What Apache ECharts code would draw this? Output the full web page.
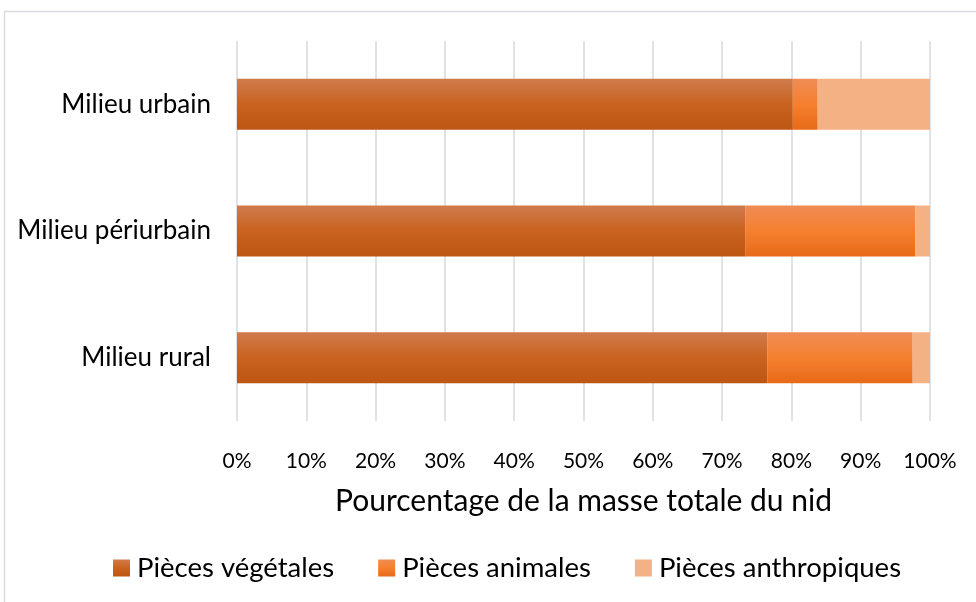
<!DOCTYPE html>
<html><head><meta charset="utf-8">
<script src="https://cdn.jsdelivr.net/npm/echarts@6/dist/echarts.min.js"></script>
<style>html,body{margin:0;padding:0;background:#fff}#c{width:976px;height:602px}</style>
</head><body><div id="c"></div>
<script>
const categories = ['Milieu rural', 'Milieu périurbain', 'Milieu urbain'];
const seriesNames = ['Pièces végétales', 'Pièces animales', 'Pièces anthropiques'];
const vegetales = [76.5, 73.4, 80.2];
const animales = [21.0, 24.5, 3.6];
const anthropiques = [2.5, 2.1, 16.2];
const tickValues = [0, 10, 20, 30, 40, 50, 60, 70, 80, 90, 100];

const chart = echarts.init(document.getElementById('c'));
const FONT = 'Lato';
function grad(top, mid, bot) {
  return new echarts.graphic.LinearGradient(0, 0, 0, 1, [
    {offset: 0, color: top}, {offset: 0.5, color: mid}, {offset: 1, color: bot}
  ]);
}
const colors = [
  grad('#d07b4d', '#c9631f', '#bd5513'),
  grad('#f08c56', '#f5802e', '#e76a18'),
  '#f4b183'
];
const dataSets = [vegetales, animales, anthropiques];
chart.setOption({
  animation: false,
  textStyle: {fontFamily: FONT},
  graphic: [{
    type: 'rect', shape: {x: 4.5, y: 11.5, width: 990, height: 620},
    style: {fill: 'none', stroke: '#d9dce1', lineWidth: 1.5}, silent: true
  }],
  grid: {left: 237, right: 46, top: 41, bottom: 181},
  legend: {
    bottom: 15, left: 108, itemWidth: 17, itemHeight: 17, itemGap: 44,
    icon: 'rect',
    textStyle: {fontFamily: FONT, fontSize: 27.5, color: '#000', padding: [0, 0, 0, 2]},
    data: seriesNames
  },
  xAxis: {
    type: 'value', min: 0, max: 100, interval: 10,
    axisLabel: {formatter: v => tickValues.includes(v) ? v + '%' : '', fontSize: 21, color: '#000', margin: 30, fontFamily: FONT},
    axisLine: {show: false}, axisTick: {show: false},
    splitLine: {lineStyle: {color: '#dfe3e8', width: 2}},
    name: 'Pourcentage de la masse totale du nid', nameLocation: 'middle', nameGap: 65,
    nameTextStyle: {fontSize: 30, color: '#000', fontFamily: FONT}
  },
  yAxis: {
    type: 'category', data: categories,
    axisLine: {show: false}, axisTick: {show: false},
    axisLabel: {fontSize: 26, color: '#000', margin: 26, fontFamily: FONT}
  },
  series: seriesNames.map((n, i) => ({
    name: n, type: 'bar', stack: 'total', barWidth: 51,
    itemStyle: {color: colors[i]},
    data: dataSets[i]
  }))
});
</script></body></html>
